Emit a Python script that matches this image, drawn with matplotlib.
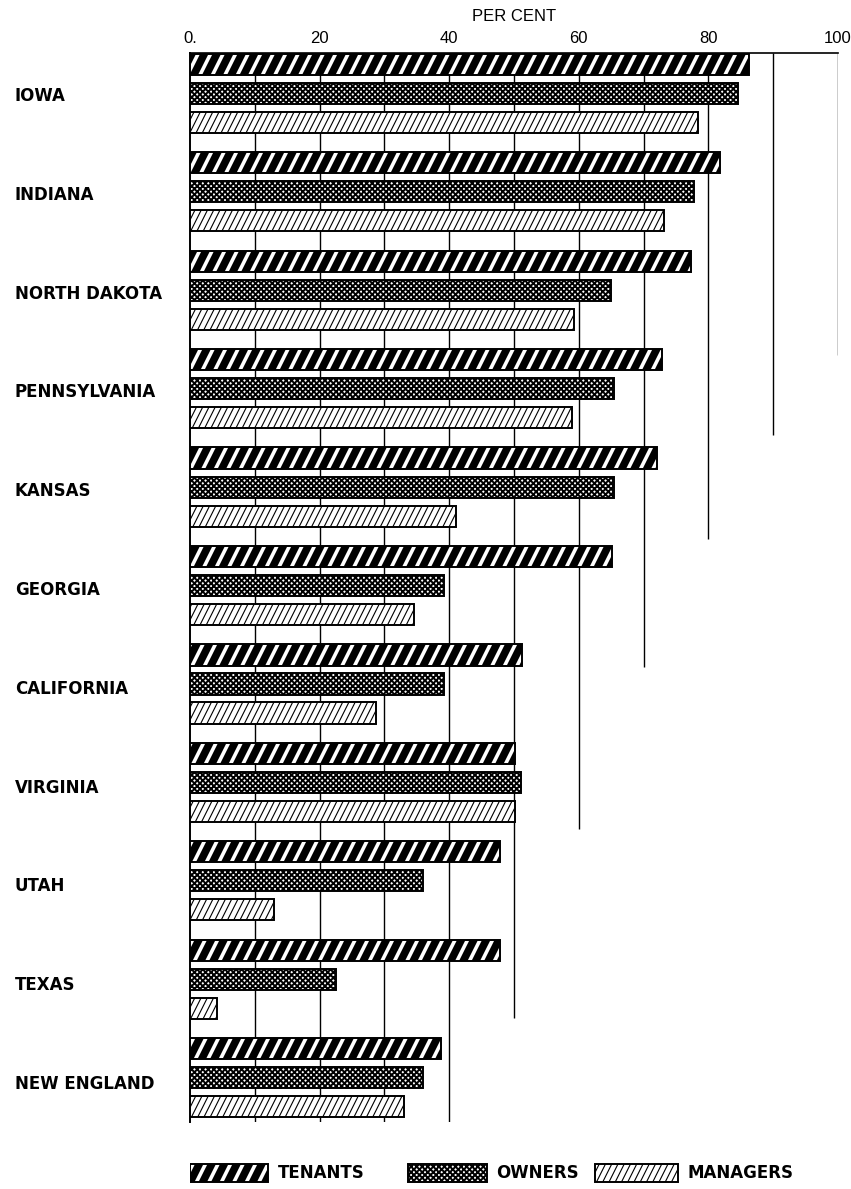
import numpy as np
import matplotlib
matplotlib.use("Agg")
import matplotlib.pyplot as plt
import matplotlib.hatch as mhatch
from matplotlib.path import Path

# per cent values
states = ["IOWA", "INDIANA", "NORTH DAKOTA", "PENNSYLVANIA", "KANSAS", "GEORGIA",
          "CALIFORNIA", "VIRGINIA", "UTAH", "TEXAS", "NEW ENGLAND"]
tenants = [86.3, 81.8, 77.3, 72.8, 72.0, 65.1, 51.3, 50.2, 47.8, 47.8, 38.8]
owners = [84.5, 77.8, 65.0, 65.5, 65.4, 39.2, 39.2, 51.1, 35.9, 22.5, 35.9]
managers = [78.4, 73.2, 59.3, 59.0, 41.0, 34.5, 28.7, 50.1, 12.9, 4.2, 33.0]
series_names = ["TENANTS", "OWNERS", "MANAGERS"]
xticks = [0, 20, 40, 60, 80, 100]
xtick_labels = ["0.", "20", "40", "60", "80", "100"]

DPI = 100
W, H = 851, 1189


# the old print uses steeper stripes than the stock 45 degree '/' hatch
class SteepHatch(mhatch.HatchPatternBase):
  def __init__(self, hatch, density):
    self.m = 4 * hatch.count('/')
    self.num_vertices = 2 * (2 * self.m + 1) if self.m else 0

  def set_vertices_and_codes(self, vertices, codes):
    x0 = np.arange(-self.m, self.m + 1) / self.m
    vertices[0::2, 0] = x0
    vertices[0::2, 1] = 0.0
    vertices[1::2, 0] = x0 + 0.5
    vertices[1::2, 1] = 1.0
    codes[0::2] = Path.MOVETO
    codes[1::2] = Path.LINETO


class CrossNE(mhatch.NorthEastHatch):
  # keep 45 degrees for 'x' only
  def __init__(self, hatch, density):
    super().__init__(hatch.replace('/', ''), density)


mhatch._hatch_types = [mhatch.HorizontalHatch, mhatch.VerticalHatch, CrossNE,
                       mhatch.SouthEastHatch, mhatch.SmallCircles,
                       mhatch.LargeCircles, mhatch.SmallFilledCircles,
                       mhatch.Stars, SteepHatch]

# hatch styles: face colour, hatch, hatch colour, hatch line width
styles = {
  "TENANTS": ("black", "//", "white", 2.6),
  "OWNERS": ("white", "xxxxxx", "black", 1.4),
  "MANAGERS": ("white", "////", "black", 0.8),
}

def hbars(ax, y, vals, name, height, left=0):
  face, hatch, hcol, hlw = styles[name]
  bars = ax.barh(y, vals, height=height, left=left, color=face, edgecolor=hcol,
                 hatch=hatch, linewidth=0, zorder=3)
  for p in bars:
    if hasattr(p, "set_hatch_linewidth"):
      p.set_hatch_linewidth(hlw)
  ax.barh(y, vals, height=height, left=left, fill=False, edgecolor="black",
          linewidth=1.4, zorder=4)

plt.rcParams["hatch.linewidth"] = 1.0

fig = plt.figure(figsize=(W / DPI, H / DPI), dpi=DPI)
ax = fig.add_axes([190 / W, (H - 1122) / H, 648 / W, (1122 - 53) / H])

n = len(states)
yc = np.arange(n)
off = 0.295
bh = 0.215

# vertical rules, each stopping under a different group
grid_ends = {10: 10.45, 20: 10.45, 30: 10.45, 40: 10.45, 50: 9.39,
             60: 7.47, 70: 5.83, 80: 4.53, 90: 3.47, 100: 2.66}
for gx, gend in grid_ends.items():
  ax.vlines(gx, -0.41, gend, color="black", linewidth=1.0, zorder=1)

for k, (name, vals) in enumerate(zip(series_names, [tenants, owners, managers])):
  hbars(ax, yc + (k - 1) * off, vals, name, bh)

ax.set_xlim(0, 100)
ax.set_ylim(10.45, -0.41)

for s in ["right", "bottom"]:
  ax.spines[s].set_visible(False)
ax.spines["left"].set_linewidth(1.4)
ax.spines["top"].set_linewidth(1.2)

ax.xaxis.tick_top()
ax.set_xticks(xticks)
ax.set_xticklabels(xtick_labels, fontsize=12, family="Liberation Sans")
ax.tick_params(axis="x", length=0, pad=5)
ax.set_yticks([])
ax.set_xlabel("PER CENT", fontsize=12, family="Liberation Sans", labelpad=7)
ax.xaxis.set_label_position("top")

for i, s in enumerate(states):
  fig.text(15 / W, 1 - (92 + 4 + i * 98.8) / H, s, fontsize=12,
           fontweight="bold", family="DejaVu Sans", va="center", ha="left")

# legend drawn as a small strip of bars under the chart
lax = fig.add_axes([190 / W, (H - 1184) / H, 648 / W, 22 / H])
lax.set_xlim(0, 100)
lax.set_ylim(0, 1)
lax.axis("off")
leg_x = [0, 33.6, 62.5]
leg_w = [12.0, 12.2, 12.8]
for name, lx, lw in zip(series_names, leg_x, leg_w):
  hbars(lax, [0.5], [lw], name, 0.85, left=lx)
  lax.text(lx + lw + 1.5, 0.5, name, fontsize=12, fontweight="bold",
           family="DejaVu Sans", va="center", ha="left")

fig.savefig("out.png", dpi=DPI)
